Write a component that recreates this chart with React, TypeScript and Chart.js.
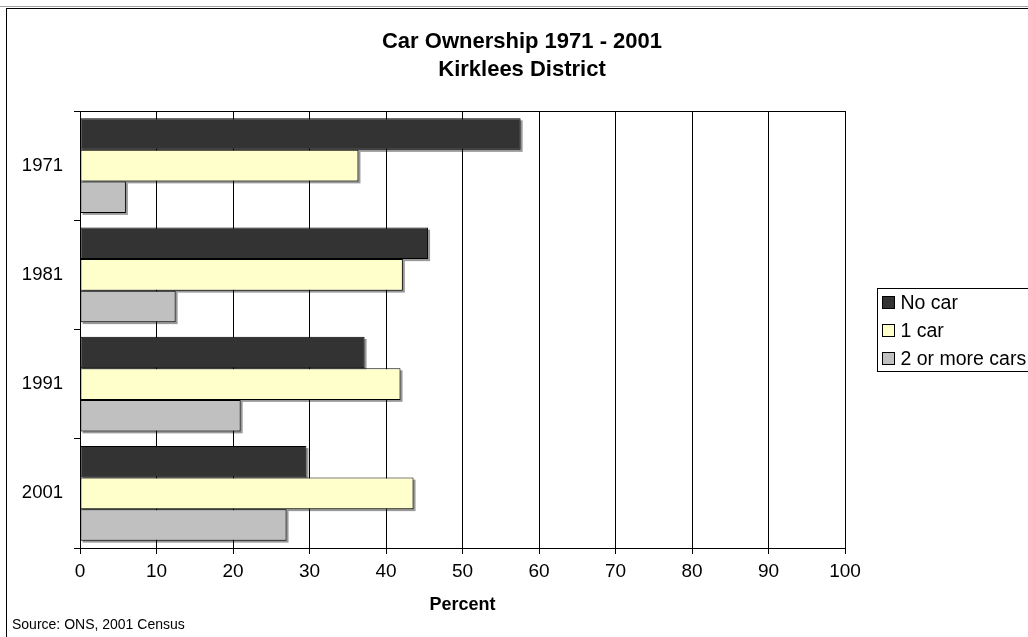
import React, { useEffect, useRef } from 'react';
import { Chart, registerables } from 'chart.js';

Chart.register(...registerables);

// ---- data ----
const years = ['1971', '1981', '1991', '2001'];
const noCar = [57.6, 45.5, 37.2, 29.6];
const oneCar = [36.4, 42.2, 41.9, 43.6];
const twoPlusCars = [6.0, 12.5, 21.0, 27.0];
const seriesNames = ['No car', '1 car', '2 or more cars'];
const seriesColors = ['#333333', '#FFFFCC', '#C0C0C0'];
const xMin = 0;
const xMax = 100;
const xStep = 10;
const titleLines = ['Car Ownership 1971 - 2001', 'Kirklees District'];
const axisTitle = 'Percent';
const sourceNote = 'Source: ONS, 2001 Census';

const FONT = '"Liberation Sans", Arial, sans-serif';
const W = 1028;
const H = 637;

const decorPlugin = {
  id: 'decor',
  beforeDraw(chart: any) {
    const ctx = chart.ctx;
    ctx.save();
    ctx.fillStyle = '#ffffff';
    ctx.fillRect(0, 0, W, H);
    ctx.lineWidth = 1;
    ctx.strokeStyle = '#a0a0a0';
    ctx.beginPath();
    ctx.moveTo(0, 6.5);
    ctx.lineTo(W, 6.5);
    ctx.stroke();
    ctx.strokeStyle = '#000000';
    ctx.strokeRect(6.5, 8.5, W + 50, H + 50);
    ctx.restore();
  },
  beforeDatasetsDraw(chart: any) {
    const ctx = chart.ctx;
    ctx.save();
    ctx.fillStyle = 'rgba(0,0,0,0.4)';
    chart.data.datasets.forEach((_: any, di: number) => {
      const meta = chart.getDatasetMeta(di);
      meta.data.forEach((el: any) => {
        const p = el.getProps(['x', 'y', 'base', 'height'], true);
        const left = Math.min(p.x, p.base);
        const w = Math.abs(p.x - p.base);
        const top = p.y - p.height / 2;
        ctx.fillRect(left + 2, top + 2, w, p.height);
      });
    });
    ctx.restore();
  },
  afterDraw(chart: any) {
    const ctx = chart.ctx;
    const area = chart.chartArea;
    ctx.save();
    // plot top border
    ctx.strokeStyle = '#000000';
    ctx.lineWidth = 1;
    ctx.beginPath();
    ctx.moveTo(Math.round(area.left) + 0.5, Math.round(area.top) + 0.5);
    ctx.lineTo(Math.round(area.right) + 0.5, Math.round(area.top) + 0.5);
    ctx.stroke();

    // chart title (centred on the whole chart frame)
    ctx.fillStyle = '#000000';
    ctx.textAlign = 'center';
    ctx.textBaseline = 'alphabetic';
    ctx.font = `bold 22px ${FONT}`;
    ctx.fillText(titleLines[0], 522, 48);
    ctx.fillText(titleLines[1], 522, 76);

    // axis title
    const cx = (area.left + area.right) / 2;
    ctx.font = `bold 18px ${FONT}`;
    ctx.fillText(axisTitle, cx, 610);

    // source
    ctx.textAlign = 'left';
    ctx.font = `14px ${FONT}`;
    ctx.fillText(sourceNote, 12, 629);

    // legend
    const lx = 877.5;
    const ly = 288.5;
    ctx.strokeStyle = '#000000';
    ctx.fillStyle = '#ffffff';
    ctx.fillRect(lx, ly, 200, 83);
    ctx.strokeRect(lx, ly, 200, 83);
    ctx.font = `19.5px ${FONT}`;
    ctx.textBaseline = 'middle';
    chart.data.datasets.forEach((ds: any, i: number) => {
      const cy = 302.5 + i * 28;
      ctx.fillStyle = ds.backgroundColor;
      ctx.fillRect(882.5, cy - 6, 12, 12);
      ctx.strokeStyle = '#000000';
      ctx.strokeRect(882.5, cy - 6, 12, 12);
      ctx.fillStyle = '#000000';
      ctx.fillText(ds.label, 900.5, cy + 1);
    });
    ctx.restore();
  },
};

export default function App() {
  const ref = useRef<HTMLCanvasElement | null>(null);

  useEffect(() => {
    if (!ref.current) return;
    Chart.defaults.font.family = FONT;
    const values = [noCar, oneCar, twoPlusCars];
    const chart = new Chart(ref.current, {
      type: 'bar',
      data: {
        labels: years,
        datasets: values.map((v, i) => ({
          label: seriesNames[i],
          data: v,
          backgroundColor: seriesColors[i],
          borderColor: '#000000',
          borderWidth: 1,
          borderSkipped: false,
          categoryPercentage: 0.865,
          barPercentage: 1,
        })),
      },
      options: {
        indexAxis: 'y',
        responsive: false,
        maintainAspectRatio: false,
        devicePixelRatio: 1,
        animation: false,
        layout: { padding: { left: 0, top: 111, right: W - 845, bottom: 0 } },
        plugins: {
          legend: { display: false },
          tooltip: { enabled: false },
          title: { display: false },
        },
        scales: {
          x: {
            type: 'linear',
            min: xMin,
            max: xMax,
            ticks: {
              stepSize: xStep,
              color: '#000000',
              font: { size: 19, family: FONT },
              padding: 6,
              maxRotation: 0,
            },
            grid: {
              color: '#000000',
              lineWidth: 1,
              tickLength: 6,
              drawOnChartArea: true,
              drawTicks: true,
            },
            border: { display: true, color: '#000000', width: 1 },
            afterFit: (scale: any) => {
              scale.height = H - 548;
            },
          },
          y: {
            type: 'category',
            offset: true,
            ticks: {
              color: '#000000',
              font: { size: 18.5, family: FONT },
              padding: 11,
            },
            grid: {
              offset: true,
              color: '#000000',
              lineWidth: 1,
              tickLength: 6,
              drawOnChartArea: false,
              drawTicks: true,
            },
            border: { display: true, color: '#000000', width: 1 },
            afterFit: (scale: any) => {
              scale.width = 80;
            },
          },
        },
      },
      plugins: [decorPlugin],
    });
    return () => chart.destroy();
  }, []);

  return (
    <div style={{ position: 'fixed', left: 0, top: 0, width: W, height: H, background: '#fff' }}>
      <canvas ref={ref} width={W} height={H} style={{ display: 'block', width: W, height: H }} />
    </div>
  );
}
